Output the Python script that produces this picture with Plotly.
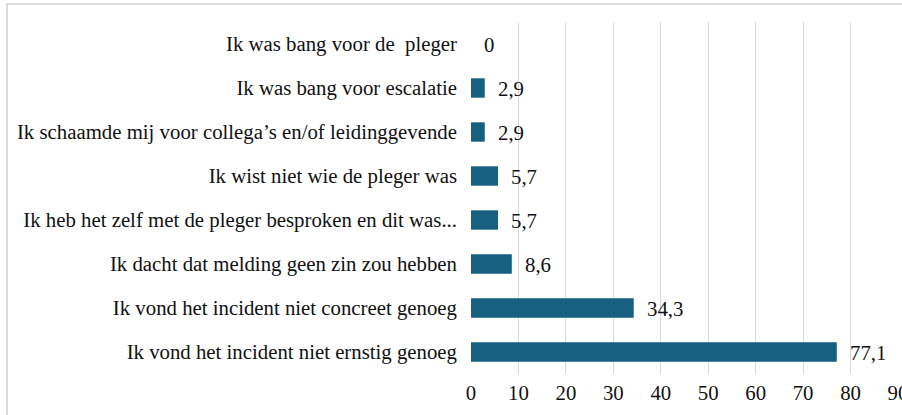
import plotly.graph_objects as go

categories = [
    "Ik vond het incident niet ernstig genoeg",
    "Ik vond het incident niet concreet genoeg",
    "Ik dacht dat melding geen zin zou hebben",
    "Ik heb het zelf met de pleger besproken en dit was...",
    "Ik wist niet wie de pleger was",
    "Ik schaamde mij voor collega’s en/of leidinggevende",
    "Ik was bang voor escalatie",
    "Ik was bang voor de  pleger",
]
values = [77.1, 34.3, 8.6, 5.7, 5.7, 2.9, 2.9, 0]
labels = ["77,1", "34,3", "8,6", "5,7", "5,7", "2,9", "2,9", "0"]
x_ticks = [0, 10, 20, 30, 40, 50, 60, 70, 80, 90]

FONT = "'Liberation Serif', 'Times New Roman', serif"
FS = 20.8
W, H = 902, 415
ml, mr, mt, mb = 471, 4, 22, 41
pw, ph = W - ml - mr, H - mt - mb

fig = go.Figure(go.Bar(
    y=categories, x=values, orientation="h",
    marker=dict(color="#17607f", line=dict(width=0)),
    hoverinfo="skip",
))

for c, v, t in zip(categories, values, labels):
    fig.add_annotation(x=v, y=c, text=t, showarrow=False, xanchor="left",
                       xshift=11, font=dict(family=FONT, size=FS, color="#111111"))

def px_x(p):
    return (p - ml) / pw

def px_y(p):
    return (H - mb - p) / ph

fig.add_shape(type="rect", xref="paper", yref="paper",
              x0=px_x(7), x1=px_x(930), y0=px_y(4), y1=px_y(440),
              line=dict(color="#d0d0d0", width=1.5), layer="below")

fig.update_layout(
    width=W, height=H,
    margin=dict(l=ml, r=mr, t=mt, b=mb, autoexpand=False),
    plot_bgcolor="white", paper_bgcolor="white",
    bargap=0.56, showlegend=False,
    font=dict(family=FONT, size=FS, color="#111111"),
    xaxis=dict(range=[0, 90], tickvals=x_ticks, ticktext=[str(t) for t in x_ticks],
               automargin=False, ticklabeloverflow="allow", ticklabelstandoff=4,
               showgrid=True, gridcolor="#d9d9d9", gridwidth=1,
               zeroline=False, showline=False, ticks="",
               tickfont=dict(family=FONT, size=FS, color="#111111")),
    yaxis=dict(showgrid=False, zeroline=False, showline=False, ticks="",
               automargin=False, ticklabelstandoff=13,
               tickfont=dict(family=FONT, size=FS, color="#111111")),
)

fig.write_html("out.html", config={"displayModeBar": False},
               post_script="document.body.style.margin='0';document.body.style.overflow='hidden';")
